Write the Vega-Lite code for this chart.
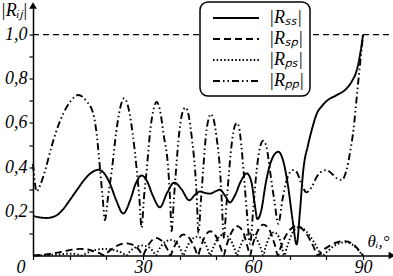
{
  "$schema": "https://vega.github.io/schema/vega-lite/v6.json",
  "width": 359,
  "height": 250,
  "autosize": "none",
  "padding": {"left": 33, "top": 5.5, "right": 1, "bottom": 20.5},
  "background": "white",
  "config": {"view": {"stroke": null}, "legend": {"strokeWidth": 1.5}},
  "encoding": {
    "x": {
      "field": "x", "type": "quantitative",
      "scale": {"domain": [0, 97.9], "nice": false, "zero": false},
      "axis": {
        "title": "θᵢ,°", "titleFont": "Liberation Serif", "titleFontStyle": "italic", "titleFontWeight": "normal", "titleFontSize": 17, "titleColor": "black",
        "titleX": 334, "titleY": -9, "titleAlign": "left", "titleBaseline": "alphabetic", "titleAngle": 0,
        "values": [0, 10, 20, 30, 40, 50, 60, 70, 80, 90],
        "labelExpr": "datum.value % 30 == 0 ? datum.label : ''",
        "labelAlign": {"condition": {"test": "datum.value == 0", "value": "right"}, "value": "center"},
        "labelOffset": {"condition": {"test": "datum.value == 0", "value": -8}, "value": 0},
        "tickSize": 4, "tickColor": "black", "tickWidth": 1.2, "domainColor": "black", "domainWidth": 1.5,
        "labelFont": "Liberation Serif", "labelFontStyle": "italic", "labelFontSize": 18, "labelColor": "black",
        "labelBaseline": "alphabetic", "labelPadding": 13, "grid": false, "labelFlush": false, "labelOverlap": false
      }
    },
    "y": {
      "field": "y", "type": "quantitative",
      "scale": {"domain": [0, 1.132], "nice": false},
      "axis": {
        "title": "|Rᵢⱼ|", "titleFont": "Liberation Serif", "titleFontStyle": "italic", "titleFontWeight": "normal", "titleFontSize": 18, "titleColor": "black",
        "titleAngle": 0, "titleX": -6, "titleY": 10, "titleAlign": "right", "titleBaseline": "alphabetic",
        "values": [0.1, 0.2, 0.3, 0.4, 0.5, 0.6, 0.7, 0.8, 0.9, 1.0],
        "labelExpr": "round(datum.value * 10) % 2 == 0 ? replace(format(datum.value, '.1f'), '.', ',') : ''",
        "tickSize": 4, "tickColor": "black", "tickWidth": 1.2, "domainColor": "black", "domainWidth": 1.5,
        "labelFont": "Liberation Serif", "labelFontStyle": "italic", "labelFontSize": 18, "labelColor": "black",
        "labelPadding": 2, "grid": false, "labelOverlap": false
      }
    }
  },
  "layer": [
    {
      "data": {"values": [{"x": 0, "y": 1}, {"x": 97.9, "y": 1}]},
      "mark": {"type": "line", "strokeDash": [6, 4], "strokeWidth": 1.2, "color": "black"}
    },
    {
      "data": {"values": [
        {"s":"Rss","x":0,"y":0.18},{"s":"Rss","x":2,"y":0.172},{"s":"Rss","x":3.7,"y":0.17},{"s":"Rss","x":6,"y":0.178},{"s":"Rss","x":8,"y":0.205},{"s":"Rss","x":10,"y":0.25},{"s":"Rss","x":12,"y":0.297},{"s":"Rss","x":14,"y":0.343},{"s":"Rss","x":16,"y":0.376},{"s":"Rss","x":17.8,"y":0.388},{"s":"Rss","x":19.5,"y":0.37},{"s":"Rss","x":21,"y":0.325},{"s":"Rss","x":22.7,"y":0.25},{"s":"Rss","x":24.6,"y":0.19},{"s":"Rss","x":26.5,"y":0.25},{"s":"Rss","x":28,"y":0.325},{"s":"Rss","x":29.6,"y":0.362},{"s":"Rss","x":31,"y":0.34},{"s":"Rss","x":32.7,"y":0.27},{"s":"Rss","x":34.6,"y":0.218},{"s":"Rss","x":36.6,"y":0.285},{"s":"Rss","x":38.5,"y":0.33},{"s":"Rss","x":40.5,"y":0.3},{"s":"Rss","x":42.6,"y":0.25},{"s":"Rss","x":44.2,"y":0.275},{"s":"Rss","x":45.6,"y":0.29},{"s":"Rss","x":47,"y":0.283},{"s":"Rss","x":48.3,"y":0.28},{"s":"Rss","x":49.7,"y":0.29},{"s":"Rss","x":51,"y":0.298},{"s":"Rss","x":52.4,"y":0.27},{"s":"Rss","x":53.7,"y":0.24},{"s":"Rss","x":55,"y":0.27},{"s":"Rss","x":56.8,"y":0.34},{"s":"Rss","x":58.3,"y":0.372},{"s":"Rss","x":59.6,"y":0.33},{"s":"Rss","x":60.4,"y":0.24},{"s":"Rss","x":61.2,"y":0.165},{"s":"Rss","x":62.2,"y":0.2},{"s":"Rss","x":63.5,"y":0.33},{"s":"Rss","x":65,"y":0.43},{"s":"Rss","x":66.9,"y":0.47},{"s":"Rss","x":68.2,"y":0.43},{"s":"Rss","x":69.5,"y":0.32},{"s":"Rss","x":70.8,"y":0.16},{"s":"Rss","x":71.9,"y":0.05},{"s":"Rss","x":72.8,"y":0.2},{"s":"Rss","x":73.7,"y":0.385},{"s":"Rss","x":75,"y":0.5},{"s":"Rss","x":76,"y":0.567},{"s":"Rss","x":77.4,"y":0.643},{"s":"Rss","x":78.7,"y":0.675},{"s":"Rss","x":80.5,"y":0.705},{"s":"Rss","x":82.8,"y":0.726},{"s":"Rss","x":85.5,"y":0.756},{"s":"Rss","x":87,"y":0.79},{"s":"Rss","x":88.3,"y":0.84},{"s":"Rss","x":89.3,"y":0.92},{"s":"Rss","x":90,"y":1.0},

        {"s":"Rsp","x":0,"y":0},{"s":"Rsp","x":3,"y":0.004},{"s":"Rsp","x":6,"y":0.011},{"s":"Rsp","x":9,"y":0.021},{"s":"Rsp","x":11,"y":0.027},{"s":"Rsp","x":13,"y":0.03},{"s":"Rsp","x":15,"y":0.027},{"s":"Rsp","x":17,"y":0.017},{"s":"Rsp","x":18.8,"y":0.005},{"s":"Rsp","x":19.5,"y":0},
        {"s":"Rsp","x":20.2,"y":0.012},{"s":"Rsp","x":22,"y":0.035},{"s":"Rsp","x":23.8,"y":0.05},{"s":"Rsp","x":25.5,"y":0.055},{"s":"Rsp","x":27.3,"y":0.048},{"s":"Rsp","x":28.8,"y":0.028},{"s":"Rsp","x":29.5,"y":0.01},{"s":"Rsp","x":30,"y":0},
        {"s":"Rsp","x":30.5,"y":0.017},{"s":"Rsp","x":32,"y":0.06},{"s":"Rsp","x":33.5,"y":0.08},{"s":"Rsp","x":35,"y":0.068},{"s":"Rsp","x":36.6,"y":0.03},{"s":"Rsp","x":37.5,"y":0},
        {"s":"Rsp","x":38,"y":0.02},{"s":"Rsp","x":39.3,"y":0.065},{"s":"Rsp","x":41,"y":0.095},{"s":"Rsp","x":42.6,"y":0.08},{"s":"Rsp","x":44.2,"y":0.03},{"s":"Rsp","x":45,"y":0},
        {"s":"Rsp","x":45.5,"y":0.025},{"s":"Rsp","x":46.7,"y":0.08},{"s":"Rsp","x":48.3,"y":0.11},{"s":"Rsp","x":49.8,"y":0.09},{"s":"Rsp","x":51.2,"y":0.035},{"s":"Rsp","x":52,"y":0},
        {"s":"Rsp","x":52.5,"y":0.03},{"s":"Rsp","x":54,"y":0.1},{"s":"Rsp","x":55.6,"y":0.133},{"s":"Rsp","x":57.2,"y":0.11},{"s":"Rsp","x":58.5,"y":0.04},{"s":"Rsp","x":59.2,"y":0},
        {"s":"Rsp","x":59.7,"y":0.035},{"s":"Rsp","x":61.1,"y":0.105},{"s":"Rsp","x":62.8,"y":0.14},{"s":"Rsp","x":64.5,"y":0.115},{"s":"Rsp","x":66,"y":0.045},{"s":"Rsp","x":66.8,"y":0},
        {"s":"Rsp","x":67.4,"y":0.03},{"s":"Rsp","x":69.3,"y":0.1},{"s":"Rsp","x":71.9,"y":0.133},{"s":"Rsp","x":74.5,"y":0.1},{"s":"Rsp","x":76.5,"y":0.04},{"s":"Rsp","x":77.7,"y":0},
        {"s":"Rsp","x":78.5,"y":0.015},{"s":"Rsp","x":81,"y":0.045},{"s":"Rsp","x":83,"y":0.06},{"s":"Rsp","x":85,"y":0.065},{"s":"Rsp","x":87,"y":0.055},{"s":"Rsp","x":88.8,"y":0.025},{"s":"Rsp","x":90,"y":0},

        {"s":"Rps","x":0,"y":0},{"s":"Rps","x":6,"y":0.004},{"s":"Rps","x":10,"y":0.008},{"s":"Rps","x":12.5,"y":0.004},{"s":"Rps","x":13.3,"y":0},
        {"s":"Rps","x":14.5,"y":0.01},{"s":"Rps","x":17,"y":0.025},{"s":"Rps","x":19.5,"y":0.03},{"s":"Rps","x":22,"y":0.025},{"s":"Rps","x":24.5,"y":0.01},{"s":"Rps","x":25.5,"y":0},
        {"s":"Rps","x":26.1,"y":0.012},{"s":"Rps","x":27.8,"y":0.036},{"s":"Rps","x":29.8,"y":0.045},{"s":"Rps","x":31.7,"y":0.036},{"s":"Rps","x":33,"y":0.012},{"s":"Rps","x":33.5,"y":0},
        {"s":"Rps","x":34,"y":0.017},{"s":"Rps","x":35.6,"y":0.055},{"s":"Rps","x":37.5,"y":0.07},{"s":"Rps","x":39.3,"y":0.055},{"s":"Rps","x":40.5,"y":0.018},{"s":"Rps","x":41,"y":0},
        {"s":"Rps","x":41.5,"y":0.02},{"s":"Rps","x":43,"y":0.067},{"s":"Rps","x":44.8,"y":0.085},{"s":"Rps","x":46.5,"y":0.068},{"s":"Rps","x":47.8,"y":0.022},{"s":"Rps","x":48.3,"y":0},
        {"s":"Rps","x":48.8,"y":0.022},{"s":"Rps","x":50.3,"y":0.075},{"s":"Rps","x":52,"y":0.095},{"s":"Rps","x":53.7,"y":0.076},{"s":"Rps","x":55.1,"y":0.024},{"s":"Rps","x":55.6,"y":0},
        {"s":"Rps","x":56.1,"y":0.024},{"s":"Rps","x":57.6,"y":0.079},{"s":"Rps","x":59.2,"y":0.1},{"s":"Rps","x":60.8,"y":0.08},{"s":"Rps","x":62.3,"y":0.025},{"s":"Rps","x":62.8,"y":0},
        {"s":"Rps","x":63.3,"y":0.03},{"s":"Rps","x":64.5,"y":0.085},{"s":"Rps","x":65.7,"y":0.105},{"s":"Rps","x":67,"y":0.085},{"s":"Rps","x":68,"y":0.03},{"s":"Rps","x":68.5,"y":0},
        {"s":"Rps","x":69.2,"y":0.035},{"s":"Rps","x":70.8,"y":0.105},{"s":"Rps","x":72.5,"y":0.128},{"s":"Rps","x":74.5,"y":0.11},{"s":"Rps","x":76.8,"y":0.055},{"s":"Rps","x":78.3,"y":0.012},{"s":"Rps","x":79,"y":0},
        {"s":"Rps","x":80,"y":0.014},{"s":"Rps","x":82,"y":0.042},{"s":"Rps","x":85,"y":0.06},{"s":"Rps","x":87.5,"y":0.045},{"s":"Rps","x":89.3,"y":0.012},{"s":"Rps","x":90,"y":0},

        {"s":"Rpp","x":0,"y":0.415},{"s":"Rpp","x":0.5,"y":0.33},{"s":"Rpp","x":1,"y":0.29},{"s":"Rpp","x":2,"y":0.32},{"s":"Rpp","x":3.3,"y":0.385},{"s":"Rpp","x":5,"y":0.49},{"s":"Rpp","x":6.5,"y":0.57},{"s":"Rpp","x":8.3,"y":0.644},{"s":"Rpp","x":10.3,"y":0.7},{"s":"Rpp","x":12.4,"y":0.727},{"s":"Rpp","x":14.5,"y":0.7},{"s":"Rpp","x":16.4,"y":0.644},{"s":"Rpp","x":17.5,"y":0.53},{"s":"Rpp","x":18.3,"y":0.387},{"s":"Rpp","x":19,"y":0.26},{"s":"Rpp","x":19.6,"y":0.16},
        {"s":"Rpp","x":20.5,"y":0.27},{"s":"Rpp","x":21.5,"y":0.387},{"s":"Rpp","x":22.7,"y":0.56},{"s":"Rpp","x":23.8,"y":0.67},{"s":"Rpp","x":24.9,"y":0.712},{"s":"Rpp","x":26,"y":0.67},{"s":"Rpp","x":27.2,"y":0.55},{"s":"Rpp","x":28.3,"y":0.387},{"s":"Rpp","x":29,"y":0.26},{"s":"Rpp","x":29.6,"y":0.127},
        {"s":"Rpp","x":30.3,"y":0.27},{"s":"Rpp","x":31,"y":0.387},{"s":"Rpp","x":32,"y":0.57},{"s":"Rpp","x":33,"y":0.67},{"s":"Rpp","x":33.7,"y":0.695},{"s":"Rpp","x":34.6,"y":0.66},{"s":"Rpp","x":35.6,"y":0.55},{"s":"Rpp","x":36.9,"y":0.387},{"s":"Rpp","x":37.4,"y":0.25},{"s":"Rpp","x":37.8,"y":0.11},
        {"s":"Rpp","x":38.4,"y":0.25},{"s":"Rpp","x":39,"y":0.387},{"s":"Rpp","x":39.9,"y":0.56},{"s":"Rpp","x":40.8,"y":0.65},{"s":"Rpp","x":41.6,"y":0.67},{"s":"Rpp","x":42.5,"y":0.63},{"s":"Rpp","x":43.4,"y":0.52},{"s":"Rpp","x":44.2,"y":0.387},{"s":"Rpp","x":44.7,"y":0.25},{"s":"Rpp","x":45.1,"y":0.1},
        {"s":"Rpp","x":45.8,"y":0.25},{"s":"Rpp","x":46.4,"y":0.387},{"s":"Rpp","x":47.2,"y":0.55},{"s":"Rpp","x":47.9,"y":0.62},{"s":"Rpp","x":48.5,"y":0.64},{"s":"Rpp","x":49.2,"y":0.62},{"s":"Rpp","x":50.1,"y":0.53},{"s":"Rpp","x":51,"y":0.387},{"s":"Rpp","x":51.5,"y":0.24},{"s":"Rpp","x":52,"y":0.08},
        {"s":"Rpp","x":52.8,"y":0.24},{"s":"Rpp","x":53.5,"y":0.387},{"s":"Rpp","x":54.3,"y":0.52},{"s":"Rpp","x":55,"y":0.585},{"s":"Rpp","x":55.6,"y":0.6},{"s":"Rpp","x":56.2,"y":0.58},{"s":"Rpp","x":56.8,"y":0.5},{"s":"Rpp","x":57.4,"y":0.387},{"s":"Rpp","x":58.3,"y":0.2},{"s":"Rpp","x":59.2,"y":0.053},
        {"s":"Rpp","x":60.1,"y":0.22},{"s":"Rpp","x":61,"y":0.387},{"s":"Rpp","x":61.9,"y":0.49},{"s":"Rpp","x":62.8,"y":0.52},{"s":"Rpp","x":63.7,"y":0.49},{"s":"Rpp","x":64.6,"y":0.387},{"s":"Rpp","x":65.8,"y":0.25},{"s":"Rpp","x":66.9,"y":0.144},
        {"s":"Rpp","x":68,"y":0.25},{"s":"Rpp","x":69,"y":0.33},{"s":"Rpp","x":70,"y":0.375},{"s":"Rpp","x":71,"y":0.387},{"s":"Rpp","x":72,"y":0.375},{"s":"Rpp","x":73.3,"y":0.32},{"s":"Rpp","x":74.6,"y":0.286},{"s":"Rpp","x":76,"y":0.31},{"s":"Rpp","x":77.5,"y":0.36},{"s":"Rpp","x":79,"y":0.383},{"s":"Rpp","x":80.1,"y":0.387},{"s":"Rpp","x":81.5,"y":0.37},{"s":"Rpp","x":83,"y":0.348},{"s":"Rpp","x":84.2,"y":0.342},{"s":"Rpp","x":85.5,"y":0.387},{"s":"Rpp","x":86.5,"y":0.47},{"s":"Rpp","x":87.4,"y":0.57},{"s":"Rpp","x":88.3,"y":0.72},{"s":"Rpp","x":89.2,"y":0.87},{"s":"Rpp","x":90,"y":1.0}
      ]},
      "mark": {"type": "line", "interpolate": "monotone", "color": "black", "strokeWidth": 1.9},
      "encoding": {
        "strokeDash": {
          "field": "s", "type": "nominal",
          "scale": {"domain": ["Rss", "Rsp", "Rps", "Rpp"], "range": [[1, 0], [7, 4], [1.5, 2.2], [7, 3, 1.5, 3, 1.5, 3]]},
          "legend": {
            "orient": "none", "legendX": 167, "legendY": -3.5, "title": null,
            "symbolType": "M-0.333,0L4.78,0", "symbolStrokeWidth": 1.9, "symbolStrokeColor": "black", "symbolSize": 324,
            "labelExpr": "datum.label == 'Rss' ? '|Rₛₛ|' : datum.label == 'Rsp' ? '|Rₛₚ|' : datum.label == 'Rps' ? '|Rₚₛ|' : '|Rₚₚ|'",
            "labelFont": "Liberation Serif", "labelFontStyle": "italic", "labelFontSize": 18, "labelColor": "black",
            "labelOffset": 43, "padding": 6, "cornerRadius": 8, "strokeColor": "black", "fillColor": "white",
            "rowPadding": 2
          }
        }
      }
    },
    {
      "data": {"values": [{"x": 97.9, "y": 0}]},
      "mark": {"type": "point", "shape": "triangle-right", "filled": true, "color": "black", "size": 60, "opacity": 1}
    },
    {
      "data": {"values": [{"x": 0, "y": 1.132}]},
      "mark": {"type": "point", "shape": "triangle-up", "filled": true, "color": "black", "size": 60, "opacity": 1}
    }
  ]
}
